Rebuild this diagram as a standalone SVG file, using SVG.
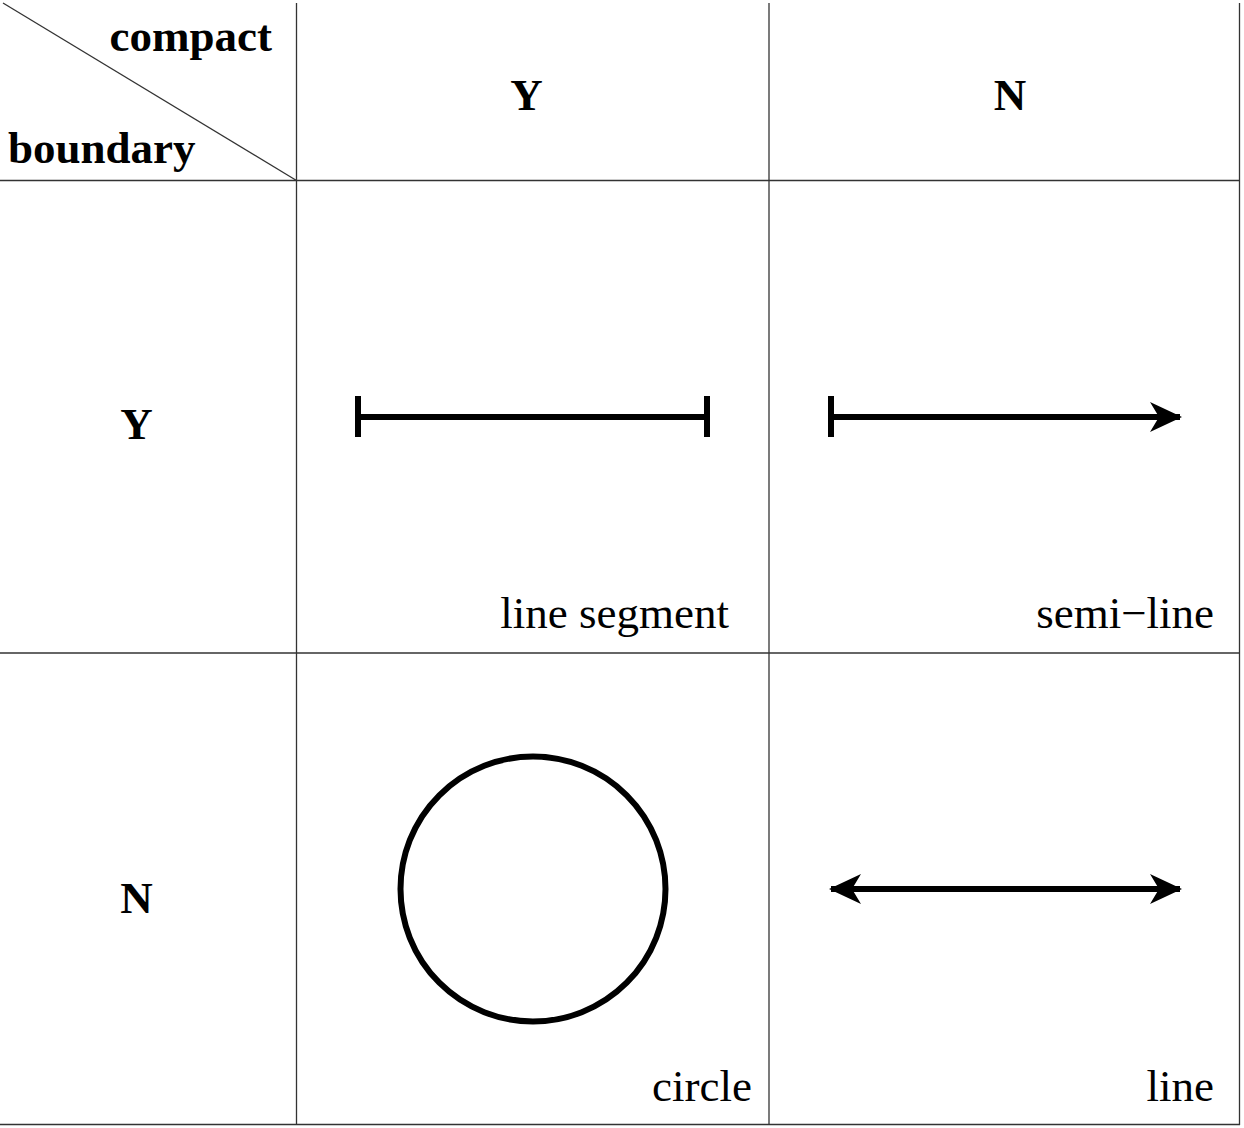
<svg xmlns="http://www.w3.org/2000/svg" width="1244" height="1128" viewBox="0 0 1244 1128">
<style>
.grid{stroke:#333;stroke-width:1.3;fill:none}
.hd{font-family:"Liberation Serif","Times New Roman",serif;font-weight:bold;font-size:45px;fill:#000}
.lb{font-family:"Liberation Serif","Times New Roman",serif;font-size:45px;fill:#000;text-anchor:end}
.shape{stroke:#000;stroke-width:6;fill:none}
</style>
<defs>
<marker id="arr" viewBox="0 0 32 30" refX="30" refY="15" markerWidth="32" markerHeight="30" markerUnits="userSpaceOnUse" orient="auto-start-reverse">
<path d="M0,0 L32,15 L0,30 L9,15 Z" fill="#000"/>
</marker>
</defs>
<rect width="1244" height="1128" fill="#fff"/>
<g id="grid">
<line class="grid" x1="296.5" y1="3" x2="296.5" y2="1125"/>
<line class="grid" x1="769" y1="3" x2="769" y2="1125"/>
<line class="grid" x1="1239.5" y1="3" x2="1239.5" y2="1125"/>
<line class="grid" x1="0" y1="180.5" x2="1240" y2="180.5"/>
<line class="grid" x1="0" y1="653" x2="1240" y2="653"/>
<line class="grid" x1="0" y1="1124.5" x2="1240" y2="1124.5"/>
<line class="grid" x1="3" y1="3" x2="296.5" y2="180.5"/>
</g>
<g id="headers">
<text class="hd" x="272" y="51" text-anchor="end">compact</text>
<text class="hd" x="8" y="163">boundary</text>
<text class="hd" x="526.5" y="110" text-anchor="middle">Y</text>
<text class="hd" x="1010" y="110" text-anchor="middle">N</text>
<text class="hd" x="136.5" y="439" text-anchor="middle">Y</text>
<text class="hd" x="136.5" y="913" text-anchor="middle">N</text>
</g>
<g id="segment">
<line class="shape" x1="358" y1="417" x2="707" y2="417"/>
<line class="shape" x1="358" y1="396" x2="358" y2="437"/>
<line class="shape" x1="707" y1="396" x2="707" y2="437"/>
<text class="lb" x="729" y="628">line segment</text>
</g>
<g id="semiline">
<line class="shape" x1="831" y1="396" x2="831" y2="437"/>
<line class="shape" x1="831" y1="417" x2="1180" y2="417" marker-end="url(#arr)"/>
<text class="lb" x="1214" y="628">semi−line</text>
</g>
<g id="circle">
<circle class="shape" cx="533" cy="889" r="132.5"/>
<text class="lb" x="752" y="1101">circle</text>
</g>
<g id="line">
<line class="shape" x1="831" y1="889" x2="1180" y2="889" marker-start="url(#arr)" marker-end="url(#arr)"/>
<text class="lb" x="1214" y="1101">line</text>
</g>
</svg>
